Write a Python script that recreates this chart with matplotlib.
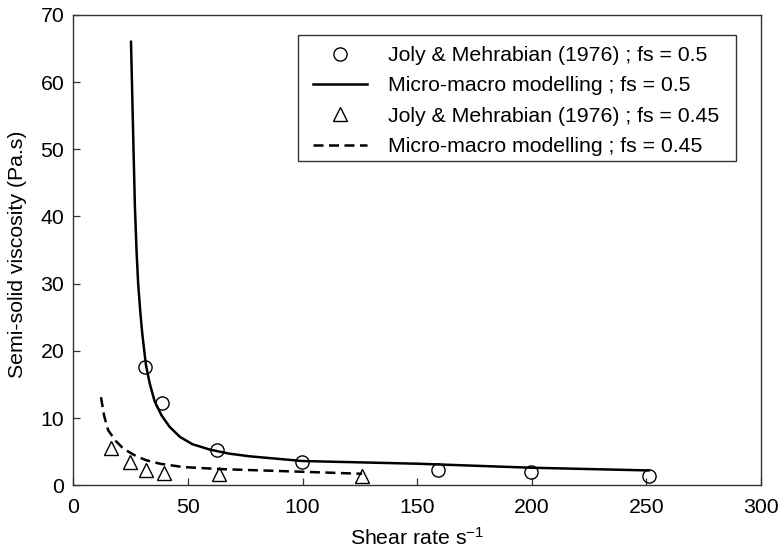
from matplotlib import pyplot as plt
from matplotlib.patches import Rectangle

exp_x_05 = [31.3, 38.7, 62.6, 99.7, 159, 199.5, 251]
exp_y_05 = [17.6, 12.2, 5.3, 3.4, 2.3, 1.9, 1.4]
exp_x_045 = [16.4, 24.7, 31.7, 39.5, 63.5, 126]
exp_y_045 = [5.6, 3.5, 2.3, 1.8, 1.7, 1.3]

# model curves
mod_x_05 = [25.2, 26.3, 26.9, 27.6, 28.3, 29.2, 30.1, 31.7, 33.4, 35.5, 38.5, 42, 46.5, 52, 59.6, 68, 77, 100, 125, 150, 200, 251]
mod_y_05 = [66, 49.9, 41.5, 35.0, 30.1, 26.0, 22.6, 17.9, 15.1, 12.5, 10.4, 8.7, 7.2, 6.1, 5.3, 4.7, 4.3, 3.6, 3.4, 3.2, 2.6, 2.2]
mod_x_045 = [12.1, 13.5, 15.2, 18.5, 22, 27.6, 32, 37.8, 48, 64, 100, 126]
mod_y_045 = [13.1, 10.3, 8.2, 6.6, 5.4, 4.3, 3.7, 3.2, 2.7, 2.4, 2.0, 1.7]

plt.rcParams['font.family'] = ['Liberation Sans', 'DejaVu Sans']
plt.rcParams['font.size'] = 15.3
plt.rcParams['mathtext.fontset'] = 'custom'
plt.rcParams['mathtext.rm'] = 'Liberation Sans'
plt.rcParams['mathtext.default'] = 'rm'

fig = plt.figure(figsize=(7.79, 5.52), dpi=100)
ax = fig.add_axes([0.094, 0.121, 0.883, 0.852])

ax.plot(exp_x_05, exp_y_05, linestyle='none', marker='o', markersize=9.5,
        markerfacecolor='none', markeredgecolor='black', markeredgewidth=1.0,
        label='Joly & Mehrabian (1976) ; fs = 0.5')
ax.plot(mod_x_05, mod_y_05, color='black', linewidth=1.8,
        label='Micro-macro modelling ; fs = 0.5')
ax.plot(exp_x_045, exp_y_045, linestyle='none', marker='^', markersize=10.5,
        markerfacecolor='none', markeredgecolor='black', markeredgewidth=1.0,
        label='Joly & Mehrabian (1976) ; fs = 0.45')
ax.plot(mod_x_045, mod_y_045, color='black', linewidth=1.8, dashes=(4, 2.2),
        label='Micro-macro modelling ; fs = 0.45')

ax.set_xlim(0, 300)
ax.set_ylim(0, 70)
ax.set_xticks([0, 50, 100, 150, 200, 250, 300])
ax.set_yticks([0, 10, 20, 30, 40, 50, 60, 70])
ax.tick_params(direction='in', length=5, width=0.9, color='#333333')
ax.tick_params(axis='x', pad=9.5)
ax.tick_params(axis='y', pad=6.5)
for s in ax.spines.values():
    s.set_color('#333333')
    s.set_linewidth(1.0)

ax.set_xlabel('Shear rate s$^{-1}$')
ax.set_ylabel('Semi-solid viscosity (Pa.s)')
ax.xaxis.set_label_coords(0.5, -0.089)
ax.yaxis.set_label_coords(-0.067, 0.491)

# legend box drawn separately so padding matches the original
ax.add_patch(Rectangle((0.3267, 0.6894), 0.6369, 0.268, transform=ax.transAxes,
                       fill=False, edgecolor='#333333', linewidth=1.0, zorder=5))
leg = ax.legend(loc='upper left', bbox_to_anchor=(0.3484, 0.934), borderaxespad=0,
                borderpad=0, frameon=False, handlelength=2.55, handletextpad=1.0,
                labelspacing=0.54)

plt.savefig('out.png', dpi=100)
